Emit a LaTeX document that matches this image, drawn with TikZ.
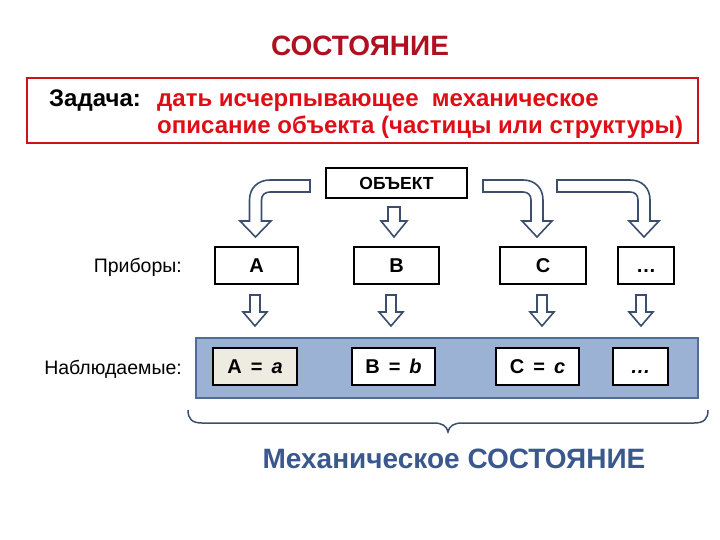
\documentclass[tikz,border=0pt]{standalone}
\usepackage{fontspec}
\setmainfont{Liberation Sans}
\usetikzlibrary{calc}
\definecolor{titlered}{RGB}{176,16,32}
\definecolor{txtred}{RGB}{222,14,22}
\definecolor{boxred}{RGB}{206,18,28}
\definecolor{arrowcol}{RGB}{60,78,110}
\definecolor{bandfill}{RGB}{156,178,212}
\definecolor{banddraw}{RGB}{82,108,152}
\definecolor{beige}{RGB}{238,235,224}
\definecolor{stateblue}{RGB}{58,88,142}
\tikzset{
  blockarrow/.style={draw=arrowcol, line width=1.6pt, fill=white, line join=miter},
  sdarrow/.pic={\draw[blockarrow] (-5,-15.5) -- (5,-15.5) -- (5,1.5) -- (12,1.5) -- (0,15.5) -- (-12,1.5) -- (-5,1.5) -- cycle;},
  devbox/.style={draw=black, line width=1.5pt, fill=white, minimum height=37pt, inner sep=0pt, font=\bfseries\fontsize{20}{24}\selectfont},
  obsbox/.style={draw=black, line width=1.5pt, fill=white, minimum height=37pt, inner sep=0pt, font=\bfseries\fontsize{20}{24}\selectfont},
  rowlabel/.style={anchor=east, inner sep=0pt, font=\fontsize{19.5}{22}\selectfont},
}
\newcommand{\eqsp}{\hspace{9pt}}
\begin{document}
\begin{tikzpicture}[x=1pt,y=-1pt]
\useasboundingbox (0,0) rectangle (720,540);
% title
\node[inner sep=0pt, anchor=base, text=titlered, font=\bfseries\fontsize{28}{32}\selectfont] (title) at (360,56) {СОСТОЯНИЕ};
% task box
\draw[boxred, line width=2pt] (27,78) rectangle (698,143);
\node[inner sep=0pt, anchor=base west, font=\bfseries\fontsize{24}{28}\selectfont] (task) at (49,107) {Задача:};
\node[inner sep=0pt, anchor=base west, text=txtred, font=\bfseries\fontsize{24}{28}\selectfont] (line1) at (157,107) {дать исчерпывающее\ \ механическое};
\node[inner sep=0pt, anchor=base west, text=txtred, font=\bfseries\fontsize{24}{28}\selectfont] (line2) at (157,134) {описание объекта (частицы или структуры)};
% object
\node[draw=black, line width=1.5pt, minimum width=141pt, minimum height=30pt, inner sep=0pt, font=\bfseries\fontsize{17.5}{20}\selectfont] (obj) at (396.5,183) {ОБЪЕКТ};
% bent arrows
\draw[blockarrow] (310,180) -- (270,180) .. controls (258,180) and (249.5,188) .. (249.5,200) -- (249.5,221) -- (240,221) -- (255.5,237) -- (271,221) -- (261.5,221) -- (261.5,200) .. controls (261.5,195) and (265,192) .. (270,192) -- (310,192) -- cycle;
\draw[blockarrow] (394-6,207) -- (394+6,207) -- (394+6,221) -- (394+13,221) -- (394,237) -- (394-13,221) -- (394-6,221) -- cycle;
\draw[blockarrow] (483,180) -- (523,180) .. controls (535,180) and (543,188) .. (543,200) -- (543,221) -- (552,221) -- (537,237) -- (522,221) -- (531,221) -- (531,200) .. controls (531,195) and (528,192) .. (523,192) -- (483,192) -- cycle;
\draw[blockarrow] (557,180) -- (630,180) .. controls (642,180) and (650,188) .. (650,200) -- (650,221) -- (659,221) -- (644,237) -- (629,221) -- (638,221) -- (638,200) .. controls (638,195) and (635,192) .. (630,192) -- (557,192) -- cycle;
% devices row
\node[rowlabel] (devlabel) at (182,267) {Приборы:};
\node[devbox, minimum width=83pt] (A) at (256.5,265.5) {A};
\node[devbox, minimum width=85pt] (B) at (396.5,265.5) {B};
\node[devbox, minimum width=86pt] (C) at (543,265.5) {C};
\node[devbox, minimum width=56pt] (D) at (646,265.5) {\vphantom{A}…};
% small arrows
\pic at (255,310.5) {sdarrow};
\pic at (391,310.5) {sdarrow};
\pic at (542,310.5) {sdarrow};
\pic at (641,310.5) {sdarrow};
% observables row
\node[rowlabel] (obslabel) at (182,369) {Наблюдаемые:};
\draw[banddraw, fill=bandfill, line width=1.5pt] (196,338) rectangle (698,398);
\node[obsbox, fill=beige, minimum width=84pt] (Aa) at (255,366.5) {A\eqsp=\eqsp\textit{a}};
\node[obsbox, minimum width=83pt] (Bb) at (393.5,366.5) {B\eqsp=\eqsp\textit{b}};
\node[obsbox, minimum width=83pt] (Cc) at (537.5,366.5) {C\eqsp=\eqsp\textit{c}};
\node[obsbox, minimum width=55pt] (Dd) at (640.5,366.5) {\vphantom{A}\textit{…}};
% brace
\draw[arrowcol, line width=1.5pt] (188,410) .. controls (188,419) and (192,423) .. (202,423) -- (434,423) .. controls (442,423) and (447,426) .. (448,432) .. controls (449,426) and (454,423) .. (462,423) -- (694,423) .. controls (704,423) and (708,419) .. (708,410);
\node[inner sep=0pt, text=stateblue, font=\bfseries\fontsize{28}{32}\selectfont] (state) at (454,459) {Механическое СОСТОЯНИЕ};
\end{tikzpicture}
\end{document}
